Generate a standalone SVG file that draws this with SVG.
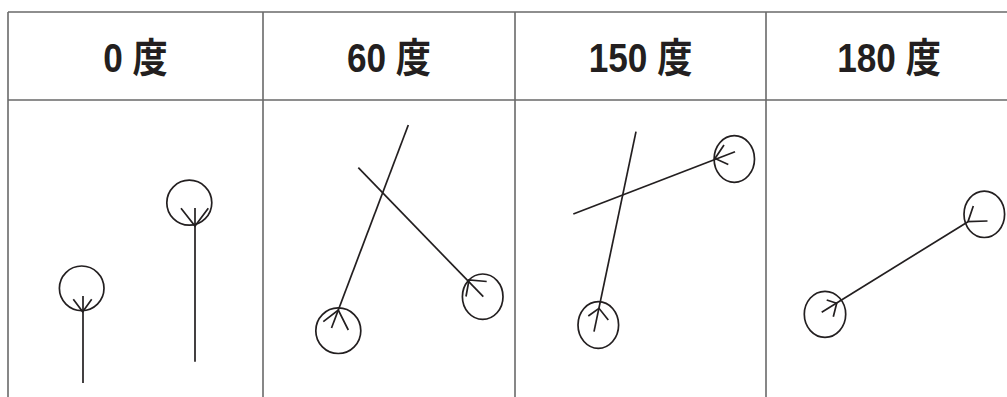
<svg xmlns="http://www.w3.org/2000/svg" width="1007" height="397" viewBox="0 0 1007 397">
  <style>
    .grid { stroke: #6a6a6a; stroke-width: 1.6; fill: none; }
    .hdr { font-family: "Liberation Sans", "Noto Sans CJK JP", sans-serif; font-weight: bold; font-size: 40px; fill: #231f20; text-anchor: middle; }
    .ink { stroke: #231f20; stroke-width: 1.7; fill: none; stroke-linecap: butt; stroke-linejoin: miter; }
  </style>
  <rect width="1007" height="397" fill="#ffffff"/>
  <g id="table">
    <path class="grid" d="M8,12 H1012 M8,100 H1012 M8,12 V397 M263,12 V397 M515,12 V397 M766,12 V397 M1012,12 V397"/>
  </g>
  <g id="headers">
    <text class="hdr" transform="translate(135.5,72) scale(0.88,1)">0 度</text>
    <text class="hdr" transform="translate(389,72) scale(0.88,1)">60 度</text>
    <text class="hdr" transform="translate(640.5,72) scale(0.88,1)">150 度</text>
    <text class="hdr" transform="translate(889,72) scale(0.88,1)">180 度</text>
  </g>
  <g id="panel-0">
    <circle class="ink" cx="81.7" cy="288.3" r="22.3"/>
    <circle class="ink" cx="189.3" cy="202.7" r="22.5"/>
  </g>
  <g id="panel-60">
    <ellipse class="ink" cx="338.3" cy="330.7" rx="22.5" ry="22.8"/>
    <ellipse class="ink" cx="482.7" cy="296.7" rx="20.3" ry="22.7"/>
  </g>
  <g id="panel-150">
    <ellipse class="ink" cx="598.3" cy="325" rx="20.3" ry="23.3"/>
    <ellipse class="ink" cx="734.3" cy="159" rx="20.2" ry="23.3"/>
  </g>
  <g id="panel-180">
    <ellipse class="ink" cx="984.3" cy="214.3" rx="20.3" ry="23.2"/>
    <ellipse class="ink" cx="825" cy="314.3" rx="20.7" ry="23"/>
  </g>
  <g id="connectors">
    <line class="ink" x1="83" y1="296" x2="83" y2="383"/>
    <polyline class="ink" points="73.3,299.3 82.7,311.7 91.7,299.3"/>
    <line class="ink" x1="195" y1="208" x2="195" y2="361.7"/>
    <polyline class="ink" points="181,208.3 195,226 208.3,208.3"/>

    <line class="ink" x1="408.3" y1="125" x2="331.5" y2="328"/>
    <polyline class="ink" points="323.3,321.7 338.3,310 348.3,330"/>
    <line class="ink" x1="358.3" y1="167.7" x2="483.3" y2="296.7"/>
    <polyline class="ink" points="486.7,281.5 469,280 466,296.5"/>

    <line class="ink" x1="636" y1="131.7" x2="594" y2="331.7"/>
    <polyline class="ink" points="588.3,316 599,308.3 608.3,320"/>
    <line class="ink" x1="573.3" y1="214" x2="735" y2="151.7"/>
    <polyline class="ink" points="724,145 715,158.5 728.3,164.5"/>

    <line class="ink" x1="821.7" y1="312.3" x2="968" y2="221.7"/>
    <polyline class="ink" points="973.3,206 968,221.7 987.5,221"/>
    <polyline class="ink" points="826.7,300 836.7,303.3 833.3,316.7"/>
  </g>
</svg>
